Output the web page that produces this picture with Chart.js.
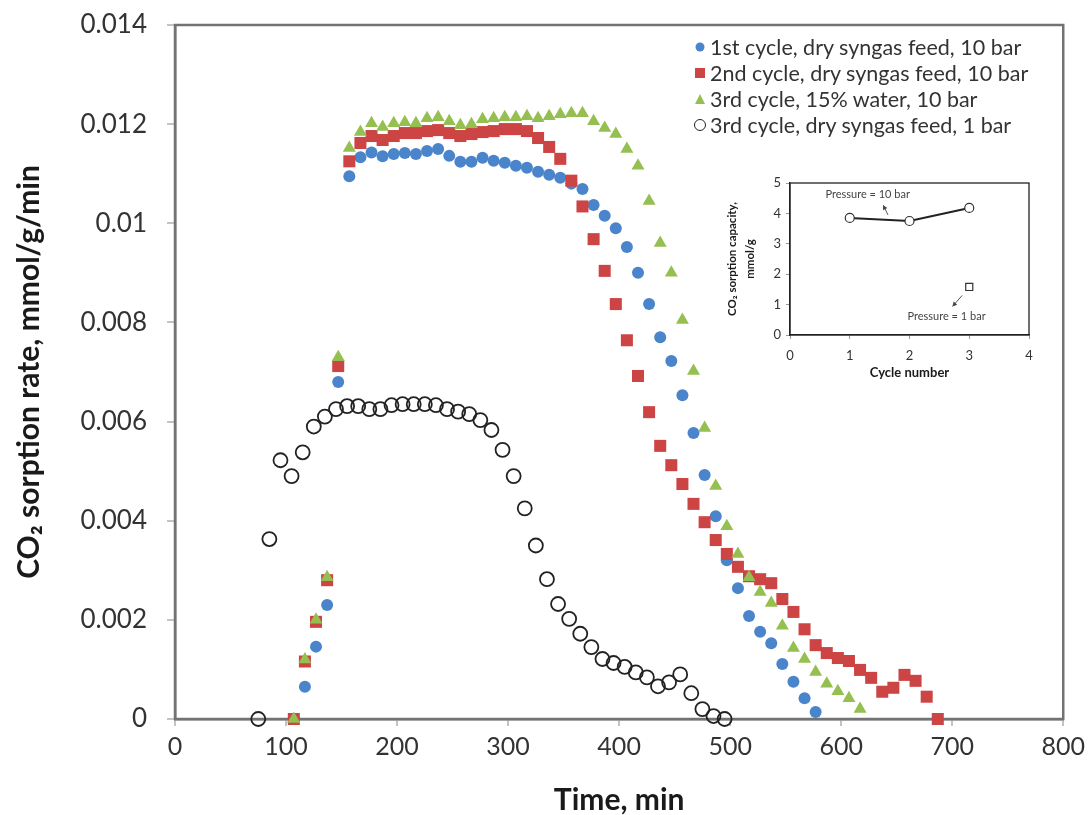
<!DOCTYPE html>
<html>
<head>
<meta charset="utf-8">
<title>CO2 sorption rate</title>
<script src="https://cdn.jsdelivr.net/npm/chart.js@4.4.1/dist/chart.umd.min.js"></script>
<style>
  body { margin: 0; background: #fff; }
  #wrap { position: relative; width: 1091px; height: 815px; }
  #rateChart { position: absolute; left: 0; top: 0; }
  #insetChart { position: absolute; left: 712px; top: 168px; }
  #legend { position: absolute; left: 690px; top: 34px; font-family: Lato, "Open Sans", sans-serif; font-size: 21.5px; color: #333; }
  #legend .row { height: 26px; line-height: 26px; display: flex; align-items: center; white-space: nowrap; }
  #legend .mark { width: 20px; height: 26px; position: relative; flex: none; }
  #legend .mark span { position: absolute; left: 50%; top: 50%; transform: translate(-50%, -50%); }
</style>
</head>
<body>
<div id="wrap">
  <canvas id="rateChart" width="1091" height="815"></canvas>
  <div id="legend"></div>
  <canvas id="insetChart" width="340" height="220"></canvas>
</div>
<script>
// time grid (min) for the three 10 bar runs
const timeDry10 = [107, 117, 127, 137, 147, 157, 167, 177, 187, 197, 207, 217, 227, 237, 247, 257, 267, 277, 287, 297,
  307, 317, 327, 337, 347, 357, 367, 377, 387, 397, 407, 417, 427, 437, 447, 457, 467, 477, 487, 497,
  507, 517, 527, 537, 547, 557, 567, 577, 587, 597, 607, 617, 627, 637, 647, 657, 667, 677, 687];

// sorption rate, mmol/g/min
const cycle1Dry = [0, 0.00065, 0.00146, 0.0023, 0.0068, 0.01095, 0.01133, 0.01143, 0.01135, 0.0114,
  0.01142, 0.0114, 0.01146, 0.0115, 0.01136, 0.01124, 0.01124, 0.01132, 0.01126, 0.01122,
  0.01116, 0.01112, 0.01104, 0.01098, 0.01092, 0.0108, 0.01069, 0.01037, 0.01015, 0.0099,
  0.00952, 0.009, 0.00837, 0.0077, 0.00722, 0.00653, 0.00577, 0.00492, 0.00409, 0.0032,
  0.00264, 0.00208, 0.00176, 0.00153, 0.00111, 0.00075, 0.00042, 0.00014];

const cycle2Dry = [0, 0.00116, 0.00196, 0.0028, 0.00712, 0.01125, 0.01162, 0.01176, 0.01168, 0.01176,
  0.01182, 0.01182, 0.01186, 0.01188, 0.01182, 0.01176, 0.0118, 0.01184, 0.01186, 0.0119,
  0.0119, 0.01186, 0.01172, 0.01154, 0.0113, 0.01086, 0.01034, 0.00968, 0.00904, 0.00837,
  0.00764, 0.00692, 0.00619, 0.00551, 0.00512, 0.00474, 0.00434, 0.00397, 0.00361, 0.00333,
  0.00307, 0.00288, 0.00282, 0.00274, 0.00242, 0.00216, 0.00181, 0.00149, 0.00133, 0.00123,
  0.00117, 0.00099, 0.00083, 0.00055, 0.00063, 0.00089, 0.00077, 0.00045, 0];

const cycle3Water = [0, 0.0012, 0.002, 0.00286, 0.0073, 0.01152, 0.01184, 0.01202, 0.01194, 0.01202,
  0.01204, 0.01202, 0.01212, 0.01214, 0.01206, 0.01198, 0.012, 0.0121, 0.01212, 0.01214,
  0.01214, 0.01216, 0.01212, 0.01216, 0.0122, 0.01222, 0.01222, 0.01206, 0.01192, 0.0118,
  0.0115, 0.01116, 0.01045, 0.0096, 0.009, 0.00805, 0.00702, 0.00587, 0.0047, 0.00389,
  0.00333, 0.00286, 0.00256, 0.00234, 0.00188, 0.00143, 0.00121, 0.00095, 0.00071, 0.00056,
  0.00042, 0.0002];

// 1 bar run has its own time grid
const time1bar = [75, 85, 95, 105, 115, 125, 135, 145, 155, 165, 175, 185, 195, 205, 215, 225, 235, 245, 255, 265,
  275, 285, 295, 305, 315, 325, 335, 345, 355, 365, 375, 385, 395, 405, 415, 425, 435, 445, 455, 465,
  475, 485, 495];

const cycle3Dry1bar = [0, 0.00363, 0.00522, 0.0049, 0.00538, 0.0059, 0.0061, 0.00625, 0.00631, 0.00631,
  0.00625, 0.00625, 0.00633, 0.00635, 0.00635, 0.00635, 0.00633, 0.00625, 0.0062, 0.00615,
  0.00603, 0.00583, 0.00543, 0.0049, 0.00425, 0.0035, 0.00282, 0.00232, 0.00202, 0.00172,
  0.00145, 0.00121, 0.00113, 0.00105, 0.00094, 0.00084, 0.00066, 0.00074, 0.0009, 0.00052,
  0.0002, 0.00006, 0];

const seriesLabels = [
  '1st cycle, dry syngas feed, 10 bar',
  '2nd cycle, dry syngas feed, 10 bar',
  '3rd cycle, 15% water, 10 bar',
  '3rd cycle, dry syngas feed, 1 bar'
];

// inset: sorption capacity per cycle
const cycleNumbers = [1, 2, 3];
const capacity10bar = [3.85, 3.75, 4.18];
const cycle1barNumber = [3];
const capacity1bar = [1.58];

const FONT = 'Lato, "Open Sans", sans-serif';
const BLUE = '#4A84CA';
const RED = '#CC4444';
const GREEN = '#95BF50';
const DARK = '#222';

const toPoints = (xs, ys) => ys.map((y, i) => ({ x: xs[i], y: y }));

// closes the plot box on the top and right sides
const frameBox = {
  id: 'frameBox',
  beforeDatasetsDraw(chart, args, opts) {
    const { ctx, chartArea: a } = chart;
    ctx.save();
    ctx.strokeStyle = opts.color;
    ctx.lineWidth = opts.width;
    ctx.strokeRect(a.left, a.top, a.right - a.left, a.bottom - a.top);
    ctx.restore();
  }
};

const datasets = [
  { label: seriesLabels[0], data: toPoints(timeDry10, cycle1Dry), pointStyle: 'circle', pointRadius: 6,
    backgroundColor: BLUE, borderColor: BLUE, borderWidth: 0, order: 3 },
  { label: seriesLabels[1], data: toPoints(timeDry10, cycle2Dry), pointStyle: 'rect', pointRadius: 8.5,
    backgroundColor: RED, borderColor: RED, borderWidth: 0, order: 2 },
  { label: seriesLabels[2], data: toPoints(timeDry10, cycle3Water), pointStyle: 'triangle', pointRadius: 7.5,
    backgroundColor: GREEN, borderColor: GREEN, borderWidth: 0, order: 1 },
  { label: seriesLabels[3], data: toPoints(time1bar, cycle3Dry1bar), pointStyle: 'circle', pointRadius: 7,
    backgroundColor: 'rgba(255,255,255,0)', borderColor: DARK, borderWidth: 1.8, order: 0 }
];
datasets.forEach(d => { d.clip = false; d.pointHoverRadius = d.pointRadius; });

new Chart(document.getElementById('rateChart'), {
  type: 'scatter',
  data: { datasets },
  plugins: [frameBox],
  options: {
    responsive: false,
    animation: false,
    events: [],
    layout: { padding: { left: 0, top: 25, right: 13, bottom: 0 } },
    plugins: {
      legend: { display: false },
      tooltip: { enabled: false },
      frameBox: { color: '#737373', width: 2.5 }
    },
    scales: {
      x: {
        type: 'linear', min: 0, max: 800,
        afterFit: s => { s.height = 96; },
        ticks: { stepSize: 100, padding: 6, color: '#333', font: { family: FONT, size: 25 } },
        grid: { drawOnChartArea: false, drawTicks: true, tickLength: 7, color: '#c4c4c4', lineWidth: 2 },
        border: { color: '#737373', width: 2.5 },
        title: { display: true, text: 'Time, min', color: '#1a1a1a', padding: { top: 0, bottom: 0 },
          font: { family: FONT, size: 30, weight: 'bold', lineHeight: 1 } }
      },
      y: {
        type: 'linear', min: 0, max: 0.014,
        // the label gap is horizontal only; keep it out of the vertical padding
        afterFit: s => { s.width = 175; s.paddingTop = 0; s.paddingBottom = 0; },
        ticks: { stepSize: 0.002, padding: 20, color: '#333', font: { family: FONT, size: 26 },
          callback: v => String(parseFloat(v.toFixed(3))) },
        grid: { drawOnChartArea: false, drawTicks: true, tickLength: 8, color: '#c4c4c4', lineWidth: 2 },
        border: { color: '#737373', width: 2.5 },
        title: { display: true, text: 'CO\u2082 sorption rate, mmol/g/min', color: '#1a1a1a', padding: { top: 14 },
          font: { family: FONT, size: 30, weight: 'bold', lineHeight: 1 } }
      }
    }
  }
});

// html legend built from the datasets
const legendEl = document.getElementById('legend');
datasets.forEach(d => {
  const row = document.createElement('div');
  row.className = 'row';
  const mark = document.createElement('div');
  mark.className = 'mark';
  const s = document.createElement('span');
  if (d.pointStyle === 'rect') {
    s.style.cssText += `width:10px;height:10px;background:${d.backgroundColor};`;
  } else if (d.pointStyle === 'triangle') {
    s.style.cssText += `width:0;height:0;border-left:5.5px solid transparent;border-right:5.5px solid transparent;border-bottom:10px solid ${d.backgroundColor};`;
  } else if (d.borderWidth > 0) {
    s.style.cssText += `width:10px;height:10px;border-radius:50%;border:1.5px solid ${d.borderColor};`;
  } else {
    s.style.cssText += `width:9px;height:9px;border-radius:50%;background:${d.backgroundColor};`;
  }
  mark.appendChild(s);
  const txt = document.createElement('span');
  txt.textContent = d.label;
  row.appendChild(mark);
  row.appendChild(txt);
  legendEl.appendChild(row);
});

// arrow + text notes on the inset
function drawArrow(ctx, x1, y1, x2, y2) {
  const ang = Math.atan2(y2 - y1, x2 - x1);
  ctx.beginPath();
  ctx.moveTo(x1, y1);
  ctx.lineTo(x2, y2);
  ctx.stroke();
  ctx.beginPath();
  ctx.moveTo(x2, y2);
  ctx.lineTo(x2 - 5 * Math.cos(ang - 0.5), y2 - 5 * Math.sin(ang - 0.5));
  ctx.lineTo(x2 - 5 * Math.cos(ang + 0.5), y2 - 5 * Math.sin(ang + 0.5));
  ctx.closePath();
  ctx.fill();
}

const pressureNotes = {
  id: 'pressureNotes',
  afterDatasetsDraw(chart) {
    const { ctx, scales: { x, y } } = chart;
    ctx.save();
    ctx.font = `11px ${FONT}`;
    ctx.fillStyle = '#444';
    ctx.strokeStyle = '#555';
    ctx.lineWidth = 1;
    ctx.textAlign = 'center';
    ctx.textBaseline = 'middle';
    ctx.fillText('Pressure = 10 bar', x.getPixelForValue(1.3), y.getPixelForValue(4.62));
    drawArrow(ctx, x.getPixelForValue(1.64), y.getPixelForValue(3.95), x.getPixelForValue(1.56), y.getPixelForValue(4.27));
    ctx.fillText('Pressure = 1 bar', x.getPixelForValue(2.62), y.getPixelForValue(0.62));
    drawArrow(ctx, x.getPixelForValue(2.88), y.getPixelForValue(1.3), x.getPixelForValue(2.72), y.getPixelForValue(0.94));
    ctx.restore();
  }
};

new Chart(document.getElementById('insetChart'), {
  type: 'scatter',
  data: {
    datasets: [
      { label: '10 bar', data: toPoints(cycleNumbers, capacity10bar), showLine: true, borderColor: DARK, borderWidth: 2,
        pointStyle: 'circle', pointRadius: 4.5, pointBorderWidth: 1.2, pointBorderColor: '#333',
        pointBackgroundColor: '#fff', clip: false },
      { label: '1 bar', data: toPoints(cycle1barNumber, capacity1bar), pointStyle: 'rect', pointRadius: 5,
        pointBorderWidth: 1.2, pointBorderColor: '#333', pointBackgroundColor: '#fff', clip: false }
    ]
  },
  plugins: [frameBox, pressureNotes],
  options: {
    responsive: false,
    animation: false,
    events: [],
    layout: { padding: { left: 0, top: 15, right: 23, bottom: 0 } },
    plugins: {
      legend: { display: false },
      tooltip: { enabled: false },
      frameBox: { color: '#222', width: 1.3 }
    },
    scales: {
      x: {
        type: 'linear', min: 0, max: 4,
        afterFit: s => { s.height = 53; },
        ticks: { stepSize: 1, padding: 9, color: '#333', font: { family: FONT, size: 13 } },
        grid: { drawOnChartArea: false, drawTicks: true, tickLength: 4, color: '#999', lineWidth: 1 },
        border: { color: '#222', width: 1.3 },
        title: { display: true, text: 'Cycle number', color: '#1a1a1a', padding: { top: 0, bottom: 7 },
          font: { family: FONT, size: 13, weight: 'bold' } }
      },
      y: {
        type: 'linear', min: 0, max: 5,
        afterFit: s => { s.width = 78; },
        ticks: { stepSize: 1, padding: 5, color: '#333', font: { family: FONT, size: 13 } },
        grid: { drawOnChartArea: false, drawTicks: true, tickLength: 4, color: '#999', lineWidth: 1 },
        border: { color: '#222', width: 1.3 },
        title: { display: true, text: ['CO\u2082 sorption capacity,', 'mmol/g'], color: '#1a1a1a',
          padding: { top: 12 }, font: { family: FONT, size: 11.5, weight: 'bold', lineHeight: 1.5 } }
      }
    }
  }
});
</script>
</body>
</html>
